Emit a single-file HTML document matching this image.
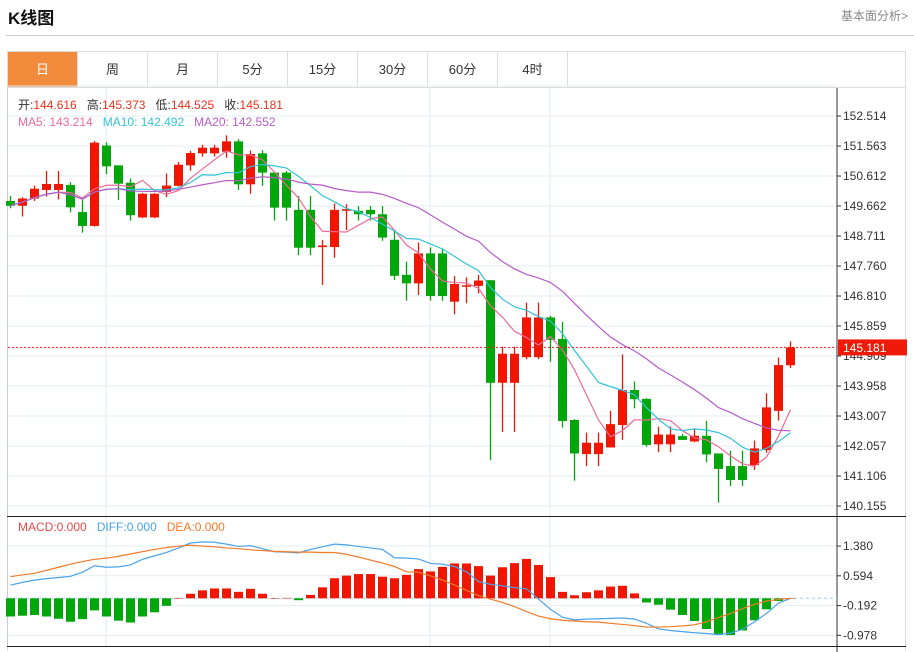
<!DOCTYPE html>
<html><head><meta charset="utf-8">
<style>
body{margin:0;width:914px;height:652px;background:#fff;font-family:"Liberation Sans","Noto Sans CJK SC",sans-serif;overflow:hidden;position:relative}
.abs{position:absolute}
.tab{position:absolute;top:52px;height:35px;width:70px;line-height:35px;text-align:center;font-size:13px;color:#333;border-right:1px solid #ddd;box-sizing:border-box}
</style></head><body>
<div class="abs" style="left:8px;top:4px;font-size:17px;font-weight:bold;color:#111">K线图</div>
<div class="abs" style="right:6px;top:7px;font-size:12px;color:#888">基本面分析&gt;</div>
<div class="abs" style="left:6px;top:35px;width:908px;height:1px;background:#ccc"></div>
<div class="abs" style="left:7px;top:51px;width:899px;height:600px;border:1px solid #ddd;border-bottom:none;box-sizing:border-box"></div>
<div class="abs" style="left:7px;top:87px;width:899px;height:1px;background:#ddd"></div>
<div class="tab" style="left:8px;background:#f28c3c;color:#fff">日</div>
<div class="tab" style="left:78px">周</div>
<div class="tab" style="left:148px">月</div>
<div class="tab" style="left:218px">5分</div>
<div class="tab" style="left:288px">15分</div>
<div class="tab" style="left:358px">30分</div>
<div class="tab" style="left:428px">60分</div>
<div class="tab" style="left:498px">4时</div>
<svg id="chart" class="abs" style="left:0;top:0" width="914" height="652"></svg>
<div class="abs" style="left:18px;top:96px;font-size:12px;color:#333;white-space:pre">开:<span style="color:#e8321e">144.616</span>   高:<span style="color:#e8321e">145.373</span>   低:<span style="color:#e8321e">144.525</span>   收:<span style="color:#e8321e">145.181</span></div>
<div class="abs" style="left:18px;top:115px;font-size:12px;white-space:pre"><span style="color:#ec6b96">MA5: 143.214</span>   <span style="color:#33c3d8">MA10: 142.492</span>   <span style="color:#b45cc9">MA20: 142.552</span></div>
<div class="abs" style="left:18px;top:520px;font-size:12px;white-space:pre"><span style="color:#e84a4a">MACD:0.000</span>   <span style="color:#4aa3ea">DIFF:0.000</span>   <span style="color:#f07a28">DEA:0.000</span></div>
<script>
const opens=[149.82,149.67,149.90,150.17,150.17,150.33,149.47,149.03,151.58,150.95,150.40,149.30,149.30,150.11,150.30,150.95,151.33,151.33,151.38,151.71,150.35,151.33,150.72,150.72,149.54,149.54,148.36,148.36,149.51,149.51,149.54,149.40,148.59,147.48,147.21,148.16,148.16,146.63,147.11,147.13,147.31,144.06,144.06,144.87,144.87,146.13,145.45,142.88,141.80,141.80,142.01,142.72,143.83,143.55,142.11,142.11,142.37,142.20,142.38,141.82,141.42,141.42,141.45,141.93,143.17,144.616];
const highs=[149.98,149.94,150.31,150.77,150.77,150.42,149.85,151.72,151.68,150.95,150.53,150.07,150.07,150.69,151.06,151.41,151.60,151.60,151.90,151.78,151.42,151.43,150.72,150.77,149.98,149.98,148.59,149.74,149.72,149.66,149.66,149.66,148.90,147.90,148.50,148.35,148.32,147.44,147.40,147.48,147.31,145.20,145.20,146.60,146.60,146.18,145.99,142.91,142.48,142.48,143.17,144.96,144.10,143.57,142.67,142.67,142.44,142.60,142.85,141.82,141.91,141.91,142.23,143.73,144.86,145.373];
const lows=[149.59,149.33,149.82,149.96,149.87,149.46,148.82,149.01,150.67,149.85,149.20,149.28,149.28,149.94,150.28,150.78,151.23,151.23,151.19,150.17,150.05,150.30,149.20,149.20,148.11,148.11,147.16,148.02,148.90,149.20,149.20,148.56,147.32,146.66,146.84,146.66,146.66,146.23,146.58,146.89,141.61,142.50,142.50,144.81,144.81,144.73,142.64,140.96,141.42,141.42,142.01,142.25,143.25,142.03,141.86,141.86,142.25,142.18,141.54,140.26,140.79,140.79,141.30,141.84,142.86,144.525];
const closes=[149.67,149.90,150.21,150.36,150.36,149.62,149.03,151.67,150.92,150.37,149.37,150.05,150.05,150.31,150.97,151.34,151.51,151.51,151.71,150.35,151.31,150.72,149.61,149.61,148.34,148.34,148.41,149.54,149.56,149.40,149.40,148.66,147.45,147.21,148.16,146.81,146.81,147.19,147.15,147.30,144.06,144.98,144.98,146.13,146.13,145.42,142.85,141.82,142.16,142.16,142.75,143.83,143.54,142.09,142.42,142.42,142.25,142.38,141.79,141.33,140.98,140.98,141.98,143.28,144.62,145.181];
const macdHist=[-0.48,-0.46,-0.44,-0.48,-0.54,-0.62,-0.55,-0.32,-0.48,-0.59,-0.64,-0.48,-0.37,-0.20,0.0,0.12,0.21,0.26,0.26,0.17,0.25,0.12,0.0,0.01,-0.05,0.09,0.29,0.53,0.60,0.64,0.64,0.57,0.53,0.62,0.77,0.71,0.83,0.92,0.92,0.85,0.60,0.82,0.93,1.04,0.88,0.56,0.17,0.08,0.16,0.21,0.31,0.33,0.13,-0.11,-0.17,-0.30,-0.44,-0.60,-0.81,-0.94,-0.97,-0.85,-0.58,-0.29,-0.07,0.0];
const diffLine=[0.35,0.42,0.48,0.52,0.55,0.58,0.69,0.86,0.82,0.83,0.88,1.03,1.12,1.21,1.33,1.46,1.49,1.48,1.43,1.37,1.39,1.31,1.23,1.22,1.20,1.29,1.36,1.43,1.41,1.37,1.33,1.29,1.07,1.06,1.04,0.92,0.90,0.84,0.70,0.44,0.37,0.33,0.28,0.25,-0.02,-0.29,-0.50,-0.57,-0.55,-0.54,-0.53,-0.52,-0.55,-0.66,-0.81,-0.85,-0.88,-0.91,-0.93,-0.96,-0.92,-0.82,-0.62,-0.40,-0.13,0.0];
const deaLine=[0.57,0.62,0.66,0.74,0.82,0.90,0.97,1.03,1.06,1.11,1.17,1.23,1.29,1.34,1.38,1.40,1.38,1.36,1.33,1.31,1.28,1.26,1.24,1.23,1.22,1.22,1.21,1.21,1.16,1.09,1.01,0.93,0.84,0.70,0.69,0.59,0.48,0.35,0.21,0.07,-0.02,-0.11,-0.22,-0.35,-0.47,-0.54,-0.58,-0.60,-0.62,-0.63,-0.66,-0.69,-0.72,-0.76,-0.76,-0.75,-0.73,-0.70,-0.62,-0.51,-0.40,-0.27,-0.16,-0.07,-0.03,0.0];
const priceTicks=[152.514,151.563,150.612,149.662,148.711,147.760,146.810,145.859,144.909,143.958,143.007,142.057,141.106,140.155];
const macdTicks=[1.380,0.594,-0.192,-0.978];
const lastPrice=145.181;

const svg=document.getElementById('chart');
const NS='http://www.w3.org/2000/svg';
function mk(tag,attrs,parent){const e=document.createElementNS(NS,tag);for(const k in attrs)e.setAttribute(k,attrs[k]);(parent||svg).appendChild(e);return e;}
const pTop=116,pMax=152.514,pMin=140.155,pBot=506;
const yP=p=>pTop+(pMax-p)*(pBot-pTop)/(pMax-pMin);
const mZero=598.3,mScale=37.87;
const yM=v=>mZero-v*mScale;
const xI=i=>10.5+12*i;
const AX=837;

// grid
priceTicks.forEach((t,i)=>{
  const y=yP(t);
  const g=mk('line',{x1:8,x2:AX,y1:y,y2:y,stroke:'#e3edf5','stroke-width':1});
  
  
  mk('line',{x1:AX,x2:AX+4,y1:y,y2:y,stroke:'#333'});
  const tx=mk('text',{x:AX+6,y:y+4,'font-size':12,fill:'#333','font-family':'Liberation Sans, sans-serif'});
  tx.textContent=t.toFixed(3);
  
  
});
mk('line',{x1:8,x2:AX,y1:yP(pMax)-30,y2:yP(pMax)-30,stroke:'#e3edf5'});
[106,430,550].forEach(x=>{
  const v=mk('line',{x1:x,x2:x,y1:88,y2:646,stroke:'#dde8f2'});
  
  
});
macdTicks.forEach(t=>{
  const y=yM(t);
  const g=mk('line',{x1:8,x2:AX,y1:y,y2:y,stroke:'#e3edf5'});
  
  
  mk('line',{x1:AX,x2:AX+4,y1:y,y2:y,stroke:'#333'});
  const tx=mk('text',{x:AX+6,y:y+4,'font-size':12,fill:'#333','font-family':'Liberation Sans, sans-serif'});
  tx.textContent=t.toFixed(3);
  
  
});
// axes
mk('line',{x1:7.5,x2:7.5,y1:88,y2:647,stroke:'#ccc'});
const ra=mk('line',{x1:AX,x2:AX,y1:88,y2:652,stroke:'#333'});


mk('line',{x1:7,x2:906,y1:516.5,y2:516.5,stroke:'#222'});
mk('line',{x1:7,x2:906,y1:646.5,y2:646.5,stroke:'#222'});
const zl=mk('line',{x1:8,x2:AX,y1:mZero,y2:mZero,stroke:'#9fd0ea','stroke-dasharray':'3,3'});



// candles
const UP='#f01600',DN='#00a60a';
closes.forEach((c,i)=>{
  const o=opens[i],up=c>=o,col=up?UP:DN,x=xI(i);
  const g=mk('g',{});
  
  
  mk('line',{x1:x,x2:x,y1:yP(highs[i]),y2:yP(lows[i]),stroke:col,'stroke-width':1.3},g);
  const t=yP(Math.max(o,c)),b=yP(Math.min(o,c));
  mk('rect',{x:x-4.5,y:t,width:9,height:Math.max(1.5,b-t),fill:col},g);
});
// moving averages
function ma(n){return closes.map((_,i)=>{const s=Math.max(0,i-n+1);let sum=0;for(let j=s;j<=i;j++)sum+=closes[j];return sum/(i-s+1);});}
[[5,'#ec6b96','ma5-line'],[10,'#33c3d8','ma10-line'],[20,'#b45cc9','ma20-line']].forEach(([n,col,name])=>{
  const m=ma(n);
  const p=mk('polyline',{points:m.map((v,i)=>xI(i)+','+yP(v)).join(' '),fill:'none',stroke:col,'stroke-width':1.2});
  
  
});
// last price line
const ly=yP(lastPrice);
const lp=mk('line',{x1:8,x2:AX,y1:ly,y2:ly,stroke:'#e52020','stroke-dasharray':'2,2'});


const lb=mk('rect',{x:AX+1,y:ly-8,width:69,height:16,fill:'#ee1a0a'});


const lt=mk('text',{x:AX+6,y:ly+4.5,'font-size':12,fill:'#fff','font-family':'Liberation Sans, sans-serif'});
lt.textContent=lastPrice.toFixed(3);



// MACD histogram
macdHist.forEach((v,i)=>{
  const x=xI(i),y=yM(v);
  const r=mk('rect',{x:x-4.5,y:Math.min(y,mZero),width:9,height:Math.max(0.5,Math.abs(y-mZero)),fill:v>=0?UP:DN});
  
  
});
const dl=mk('polyline',{points:diffLine.map((v,i)=>xI(i)+','+yM(v)).join(' '),fill:'none',stroke:'#4aa3ea','stroke-width':1.2});


const el=mk('polyline',{points:deaLine.map((v,i)=>xI(i)+','+yM(v)).join(' '),fill:'none',stroke:'#f07a28','stroke-width':1.2});


</script>
</body></html>
